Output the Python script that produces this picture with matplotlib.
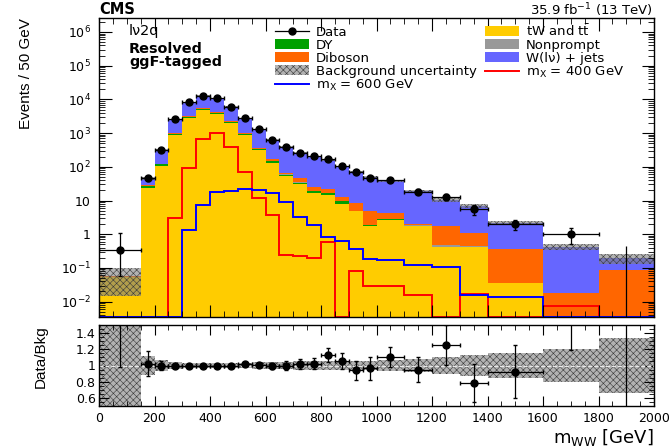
import numpy as np
import matplotlib
matplotlib.use('Agg')
import matplotlib.pyplot as plt
from matplotlib.ticker import MultipleLocator, LogLocator, FixedLocator, FuncFormatter, NullFormatter
from matplotlib.patches import Patch
from matplotlib.lines import Line2D

plt.rcParams['font.family'] = ['DejaVu Sans']
plt.rcParams['mathtext.default'] = 'regular'
plt.rcParams['hatch.linewidth'] = 0.4

# m_WW binning in GeV
edges = np.array([0, 150, 200, 250, 300, 350, 400, 450, 500, 550, 600, 650, 700, 750,
                  800, 850, 900, 950, 1000, 1100, 1200, 1300, 1400, 1600, 1800, 2000])

# observed events in each bin
data_counts = np.array([1, 46, 313, 2590, 8300, 12900, 10700, 5940, 2800, 1320, 630, 400, 265,
                        209, 175, 109, 68, 48, 82, 37, 26, 11, 8, 4, 0])

# backgrounds, events / 50 GeV
ttbar = np.array([0.055, 23.4, 107, 890, 2900, 4900, 3800, 2050, 890, 316, 129, 54, 31,
                  16.6, 14.8, 7.9, 4.8, 1.8, 2.7, 1.78, 0.42, 0.42, 0.035, 0, 0])
dy = np.array([0, 2.8, 14, 60, 150, 250, 200, 120, 45, 25, 15, 5, 3,
               2, 1.8, 1.9, 0.1, 0.05, 0.05, 0.02, 0.01, 0.01, 0, 0, 0])
nonprompt = np.array([0, 0.3, 1, 10, 40, 60, 50, 30, 15, 6, 5, 1, 0.5,
                      0.3, 0.3, 0.2, 0.1, 0.05, 0.05, 0.05, 0.04, 0.01, 0, 0, 0])
diboson = np.array([0.001, 3.0, 3, 40, 150, 290, 220, 150, 50, 25, 25, 6, 10.5,
                    5.6, 5.5, 2.3, 3.3, 2.9, 1.4, 0.2, 1.33, 0.65, 0.325, 0.018, 0.089])
wjets = np.array([0.002, 15.5, 188, 1600, 5060, 7400, 6430, 3650, 1745, 938, 461, 334, 215,
                  180, 132, 91, 64, 45, 33, 17.5, 8.6, 5.9, 1.8, 0.40, 0.11])
# relative background uncertainty
bkg_unc = np.array([0.75, 0.12, 0.07, 0.04, 0.035, 0.035, 0.035, 0.035, 0.035, 0.04, 0.04, 0.045, 0.05,
                    0.05, 0.05, 0.055, 0.06, 0.06, 0.065, 0.08, 0.11, 0.135, 0.155, 0.2, 0.34])

# signal hypotheses
sig400 = np.array([0, 0, 0, 3.0, 91, 660, 1000, 385, 69, 11.7, 3.6, 0.25, 0.22,
                   0.20, 0.58, 0, 0.079, 0.030, 0.029, 0.016, 0, 0.017, 0, 0.0072, 0])
sig600 = np.array([0, 0, 0, 0, 1.3, 7.2, 17.4, 19.8, 22.7, 21, 16.6, 8.9, 3.2,
                   1.9, 0.80, 0.64, 0.36, 0.18, 0.177, 0.12, 0.105, 0.016, 0.0138, 0, 0])

c_tt, c_dy, c_np, c_vv, c_wj = '#ffcc00', '#00a000', '#999999', '#ff6600', '#6666ff'
band_kw = dict(facecolor=(0.5, 0.5, 0.5, 0.6), edgecolor='#3a3a3a', hatch='xxxxx', linewidth=0)

ymin, ymax = 3.5e-3, 2.6e6

width = np.diff(edges)
centers = 0.5 * (edges[:-1] + edges[1:])
scale = 50.0 / width
data = data_counts * scale
err_lo = np.sqrt(data_counts).astype(float)
err_hi = np.sqrt(data_counts).astype(float)
err_lo[data_counts == 1], err_hi[data_counts == 1] = 0.83, 2.30
err_hi[data_counts == 0] = 1.84
err_lo *= scale
err_hi *= scale

total = ttbar + dy + nonprompt + diboson + wjets
tiny = 1e-6

fig = plt.figure(figsize=(6.71, 4.47), dpi=100)
ax = fig.add_axes([99 / 671, 1 - 317 / 447, 555 / 671, 299 / 447])
axr = fig.add_axes([99 / 671, 1 - 406 / 447, 555 / 671, 81 / 447], sharex=ax)

# stacked backgrounds
bottom = np.full(len(total), tiny)
for vals, col in [(ttbar, c_tt), (dy, c_dy), (nonprompt, c_np), (diboson, c_vv), (wjets, c_wj)]:
    top = bottom + vals
    ax.stairs(top, edges, baseline=bottom, fill=True, color=col, lw=0)
    bottom = top

ax.stairs(total * (1 + bkg_unc), edges, baseline=total * (1 - bkg_unc), fill=True, **band_kw)

# empty signal bins sit on the lower edge of the frame
ax.stairs(np.maximum(sig400, ymin * 1.03), edges, baseline=None, color='#ff0000', lw=1.4)
ax.stairs(np.maximum(sig600, ymin * 1.03), edges, baseline=None, color='#0000ff', lw=1.4)

has = data_counts > 0
ax.errorbar(centers[has], data[has], xerr=width[has] / 2, yerr=[err_lo[has], err_hi[has]],
            fmt='o', color='black', ms=5, lw=0.9, capsize=1.5)
ax.errorbar(centers[~has], np.full((~has).sum(), tiny), yerr=[np.zeros((~has).sum()), err_hi[~has]],
            fmt='none', ecolor='black', lw=0.9)

ax.set_yscale('log')
ax.set_ylim(ymin, ymax)
ax.set_xlim(0, 2000)


def log_label(v, pos):
    e = int(round(np.log10(v)))
    if e == 0:
        return '1'
    if e == 1:
        return '10'
    return '$10^{%d}$' % e


ax.yaxis.set_major_locator(FixedLocator(10.0 ** np.arange(-2, 7)))
ax.yaxis.set_minor_locator(LogLocator(base=10, subs=np.arange(2, 10), numticks=20))
ax.yaxis.set_major_formatter(FuncFormatter(log_label))
ax.yaxis.set_minor_formatter(NullFormatter())
ax.xaxis.set_major_locator(MultipleLocator(500))
ax.xaxis.set_minor_locator(MultipleLocator(100))
ax.tick_params(axis='x', labelbottom=False)
ax.tick_params(which='both', direction='in', top=True, right=True)
ax.tick_params(which='major', length=9, labelsize=9, pad=6)
ax.tick_params(which='minor', length=4.5)

# ratio panel
ratio = data / total
axr.stairs(1 + bkg_unc, edges, baseline=1 - bkg_unc, fill=True, **band_kw)
axr.axhline(1, color='#e8e8e8', ls='--', lw=0.8)
axr.errorbar(centers[has], ratio[has], xerr=width[has] / 2,
             yerr=[err_lo[has] / total[has], err_hi[has] / total[has]],
             fmt='o', color='black', ms=5, lw=0.9, capsize=1.5)
axr.errorbar(centers[~has], np.zeros((~has).sum()), yerr=[np.zeros((~has).sum()), err_hi[~has] / total[~has]],
             fmt='none', ecolor='black', lw=0.9)
axr.set_ylim(0.5, 1.5)
axr.set_xlim(0, 2000)
axr.xaxis.set_major_locator(MultipleLocator(200))
axr.xaxis.set_minor_locator(MultipleLocator(50))
axr.yaxis.set_major_locator(FixedLocator([0.6, 0.8, 1.0, 1.2, 1.4]))
axr.yaxis.set_minor_locator(MultipleLocator(0.05))
axr.yaxis.set_major_formatter(FuncFormatter(lambda v, p: '%g' % round(v, 2)))
axr.tick_params(which='both', direction='in', top=True, right=True)
axr.tick_params(which='major', length=7, labelsize=9)
axr.tick_params(which='minor', length=3.5)
axr.tick_params(axis='y', labelsize=9, pad=2.5)
axr.tick_params(axis='x', pad=4)

for a in (ax, axr):
    for s in a.spines.values():
        s.set_linewidth(1.0)

# legend, two columns
handles = [
    Line2D([], [], color='black', marker='o', ms=5, lw=0.9),
    Patch(facecolor=c_dy, lw=0),
    Patch(facecolor=c_vv, lw=0),
    Patch(**band_kw),
    Line2D([], [], color='#0000ff', lw=1.4),
    Patch(facecolor=c_tt, lw=0),
    Patch(facecolor=c_np, lw=0),
    Patch(facecolor=c_wj, lw=0),
    Line2D([], [], color='#ff0000', lw=1.4),
]
labels = ['Data', 'DY', 'Diboson', 'Background uncertainty', 'm$_{X}$ = 600 GeV',
          'tW and t$\\bar{t}$', 'Nonprompt', 'W(l\u03bd) + jets', 'm$_{X}$ = 400 GeV']
ax.legend(handles, labels, ncol=2, loc='upper left', bbox_to_anchor=(275 / 671, 1 - 23 / 447),
          bbox_transform=fig.transFigure, frameon=False, fontsize=9.5, borderpad=0, borderaxespad=0,
          handlelength=2.6, handleheight=0.7, handletextpad=0.5, labelspacing=0.0, columnspacing=0.6)

fig.text(99 / 671, 1 - 10 / 447, 'CMS', weight='bold', fontsize=10.5, ha='left', va='center')
fig.text(653 / 671, 1 - 10 / 447, '35.9 fb$^{-1}$ (13 TeV)', fontsize=9.5, ha='right', va='center')
fig.text(129 / 671, 1 - 31 / 447, 'l\u03bd2q', fontsize=10.4, ha='left', va='center')
fig.text(129 / 671, 1 - 49 / 447, 'Resolved', weight='bold', fontsize=10.4, ha='left', va='center')
fig.text(129 / 671, 1 - 62 / 447, 'ggF-tagged', weight='bold', fontsize=10.4, ha='left', va='center')

fig.text(26 / 671, 1 - 18 / 447, 'Events / 50 GeV', rotation=90, fontsize=11,
         family='Liberation Sans', ha='center', va='top')
fig.text(41 / 671, 1 - 325 / 447, 'Data/Bkg', rotation=90, fontsize=11,
         family='Liberation Sans', ha='center', va='top')
fig.text(654 / 671, 1 - 437 / 447, 'm$_{WW}$ [GeV]', fontsize=13, ha='right', va='center')

fig.savefig('out.png', dpi=100)
